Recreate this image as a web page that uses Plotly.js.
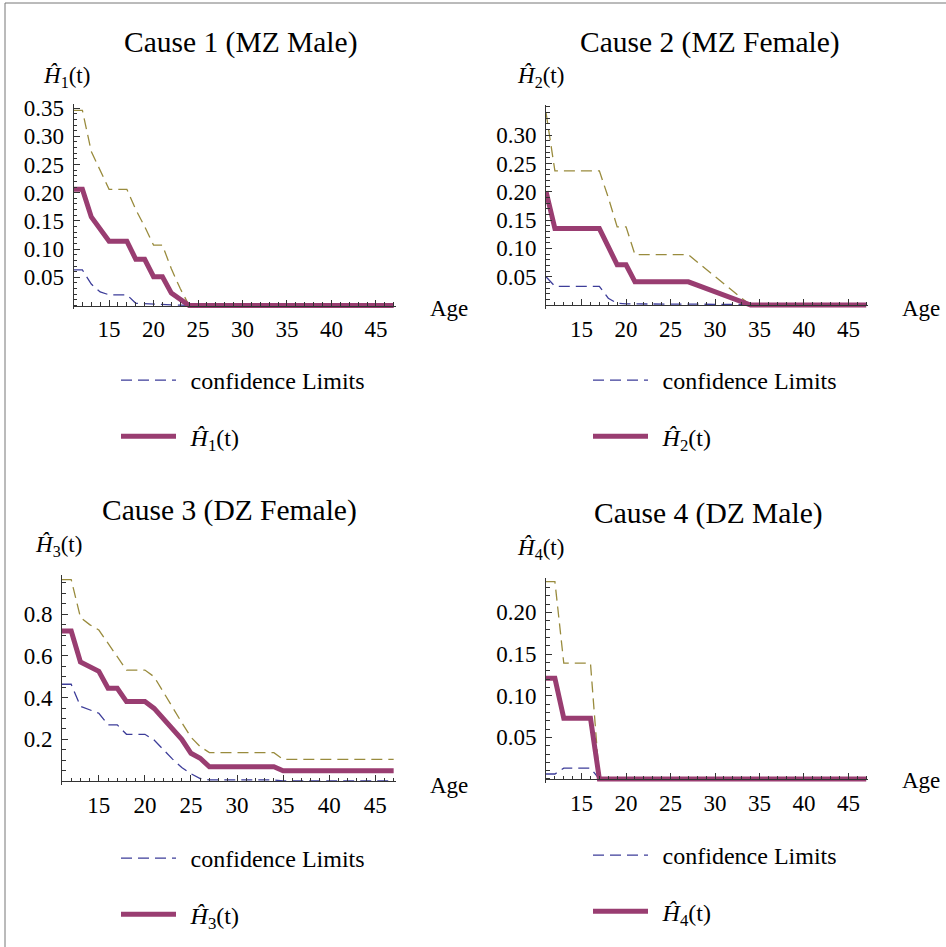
<!DOCTYPE html>
<html><head><meta charset="utf-8">
<script src="https://cdn.plot.ly/plotly-3.0.1.min.js"></script>
<style>html,body{margin:0;padding:0;background:#fff}#chart{width:946px;height:947px}</style>
</head><body><div id="chart"></div>
<script>
// ---------- data ----------
const ages = [11,12,13,14,15,16,17,18,19,20,21,22,23,24,25,26,27,28,29,30,31,32,33,34,35,36,37,38,39,40,41,42,43,44,45,46,47];

// Cause 1 (MZ Male)
const est1   = [0.206,0.206,0.157,0.135,0.114,0.114,0.114,0.082,0.082,0.051,0.051,0.022,0.010,0,0,0,0,0,0,0,0,0,0,0,0,0,0,0,0,0,0,0,0,0,0,0,0];
const upper1 = [0.346,0.346,0.273,0.240,0.206,0.206,0.206,0.170,0.140,0.107,0.107,0.065,0.030,0,0,0,0,0,0,0,0,0,0,0,0,0,0,0,0,0,0,0,0,0,0,0,0];
const lower1 = [0.063,0.063,0.038,0.024,0.019,0.019,0.019,0.004,0.003,0.002,0.002,0.001,0.0005,0,0,0,0,0,0,0,0,0,0,0,0,0,0,0,0,0,0,0,0,0,0,0,0];

// Cause 2 (MZ Female)
const est2   = [0.201,0.135,0.135,0.135,0.135,0.135,0.135,0.103,0.071,0.071,0.041,0.041,0.041,0.041,0.041,0.041,0.041,0.035,0.029,0.023,0.017,0.011,0.006,0,0,0,0,0,0,0,0,0,0,0,0,0,0];
const upper2 = [0.340,0.237,0.237,0.237,0.237,0.237,0.237,0.190,0.138,0.138,0.089,0.089,0.089,0.089,0.089,0.089,0.089,0.076,0.063,0.050,0.037,0.025,0.012,0,0,0,0,0,0,0,0,0,0,0,0,0,0];
const lower2 = [0.050,0.033,0.033,0.033,0.033,0.033,0.033,0.012,0.003,0.002,0.002,0.002,0.002,0.002,0.002,0.002,0.002,0.001,0.001,0.001,0.001,0.001,0.001,0,0,0,0,0,0,0,0,0,0,0,0,0,0];

// Cause 3 (DZ Female)
const est3   = [0.719,0.719,0.571,0.548,0.526,0.445,0.445,0.381,0.381,0.381,0.348,0.300,0.250,0.200,0.133,0.109,0.068,0.068,0.068,0.068,0.068,0.068,0.068,0.068,0.049,0.049,0.049,0.049,0.049,0.049,0.049,0.049,0.049,0.049,0.049,0.049,0.049];
const upper3 = [0.966,0.966,0.785,0.750,0.724,0.660,0.595,0.532,0.532,0.532,0.500,0.425,0.350,0.280,0.210,0.165,0.136,0.136,0.136,0.136,0.136,0.136,0.136,0.136,0.104,0.104,0.104,0.104,0.104,0.104,0.104,0.104,0.104,0.104,0.104,0.104,0.104];
const lower3 = [0.464,0.464,0.358,0.341,0.325,0.269,0.269,0.224,0.224,0.224,0.196,0.150,0.105,0.065,0.035,0.012,0.005,0.005,0.005,0.005,0.005,0.005,0.005,0.005,0,0,0,0,0,0,0,0,0,0,0,0,0];

// Cause 4 (DZ Male)
const est4   = [0.121,0.121,0.073,0.073,0.073,0.073,0,0,0,0,0,0,0,0,0,0,0,0,0,0,0,0,0,0,0,0,0,0,0,0,0,0,0,0,0,0,0];
const upper4 = [0.237,0.237,0.139,0.139,0.139,0.139,0,0,0,0,0,0,0,0,0,0,0,0,0,0,0,0,0,0,0,0,0,0,0,0,0,0,0,0,0,0,0];
const lower4 = [0.006,0.006,0.013,0.013,0.013,0.013,0,0,0,0,0,0,0,0,0,0,0,0,0,0,0,0,0,0,0,0,0,0,0,0,0,0,0,0,0,0,0];

const titles  = ['Cause 1 (MZ Male)','Cause 2 (MZ Female)','Cause 3 (DZ Female)','Cause 4 (DZ Male)'];
const hLabels = ['<i>Ĥ</i><sub>1</sub>(t)','<i>Ĥ</i><sub>2</sub>(t)','<i>Ĥ</i><sub>3</sub>(t)','<i>Ĥ</i><sub>4</sub>(t)'];
const ciName  = 'confidence Limits';
const xLabel  = 'Age';
const xTickVals = [15,20,25,30,35,40,45];
const yTicks1 = [0.05,0.10,0.15,0.20,0.25,0.30,0.35];
const yTicks2 = [0.05,0.10,0.15,0.20,0.25,0.30];
const yTicks3 = [0.2,0.4,0.6,0.8];
const yTicks4 = [0.05,0.10,0.15,0.20];

const ests = [est1,est2,est3,est4];
const uppers = [upper1,upper2,upper3,upper4];
const lowers = [lower1,lower2,lower3,lower4];
const yTicks = [yTicks1,yTicks2,yTicks3,yTicks4];

// ---------- layout geometry (pixels) ----------
const W = 946, H = 947;
const PX = x => x / W, PY = y => 1 - y / H;
const FONT = 'Liberation Serif, Times New Roman, serif';
const BLUE = '#3d3d99', PURPLE = '#993d71', OLIVE = '#998b3d', AX = '#333';
const GAP = '\u2009\u2009';

const cfg = [
  {xd:[73.5,395.5], zero:305.5, ppu:564,   yr:[-0.007,0.358], minor:0.01, fmt:'.2f', title:[240,43],  hl:[66,77],  age:[428,308], leg:[116,358]},
  {xd:[546,868],    zero:305,   ppu:566,   yr:[-0.007,0.353], minor:0.01, fmt:'.2f', title:[710,43],  hl:[540,77], age:[900,308], leg:[588,358]},
  {xd:[62,395.5],   zero:781,   ppu:208.5, yr:[-0.019,0.988], minor:0.05, fmt:'.1f', title:[229,510], hl:[58,546], age:[428,785], leg:[116,836]},
  {xd:[546,868],    zero:779,   ppu:833,   yr:[-0.005,0.241], minor:0.01, fmt:'.2f', title:[708,513], hl:[540,549],age:[900,780], leg:[588,833]}
];

const data = [];
const layout = {
  width: W, height: H,
  margin: {l:0, r:0, t:0, b:0},
  paper_bgcolor: '#fff', plot_bgcolor: '#fff',
  font: {family: FONT, color: '#000', size: 23},
  showlegend: true,
  annotations: [],
  shapes: [
    {type:'line', xref:'paper', yref:'paper', x0:PX(5), x1:PX(5), y0:PY(3), y1:PY(947), line:{color:'#777', width:1}},
    {type:'line', xref:'paper', yref:'paper', x0:PX(5), x1:PX(946), y0:PY(3), y1:PY(3), line:{color:'#777', width:1}}
  ]
};

cfg.forEach((c, i) => {
  const n = i + 1;
  const xa = 'x' + (n === 1 ? '' : n), ya = 'y' + (n === 1 ? '' : n);
  const xkey = 'xaxis' + (n === 1 ? '' : n), ykey = 'yaxis' + (n === 1 ? '' : n);
  const lkey = 'legend' + (n === 1 ? '' : n);
  const yBottom = c.zero - c.yr[0] * c.ppu;
  const yTop = c.zero - c.yr[1] * c.ppu;

  layout[xkey] = {
    domain: [PX(c.xd[0]), PX(c.xd[1])], range: [11, 47.2],
    anchor: 'free', position: PY(c.zero),
    showline: true, linecolor: AX, linewidth: 1,
    ticks: 'inside', ticklen: 6, tickwidth: 1, tickcolor: AX,
    tickmode: 'array', tickvals: xTickVals,
    minor: {tickmode: 'linear', tick0: 11, dtick: 1, ticks: 'inside', ticklen: 3.5, tickwidth: 1, tickcolor: AX, showgrid: false},
    showgrid: false, zeroline: false,
    tickfont: {family: FONT, size: 23, color: '#000'},
    ticklabelstandoff: 3, fixedrange: true
  };
  layout[ykey] = {
    domain: [PY(yBottom), PY(yTop)], range: c.yr, anchor: xa,
    showline: true, linecolor: AX, linewidth: 1,
    ticks: 'inside', ticklen: 6, tickwidth: 1, tickcolor: AX,
    tickmode: 'array', tickvals: yTicks[i], tickformat: c.fmt,
    minor: {tickmode: 'linear', tick0: 0, dtick: c.minor, ticks: 'inside', ticklen: 3.5, tickwidth: 1, tickcolor: AX, showgrid: false},
    showgrid: false, zeroline: false,
    tickfont: {family: FONT, size: 23, color: '#000'},
    ticklabelstandoff: 4, fixedrange: true
  };
  layout[lkey] = {
    x: PX(c.leg[0]), y: PY(c.leg[1]), xanchor: 'left', yanchor: 'top',
    xref: 'paper', yref: 'paper',
    bgcolor: 'rgba(0,0,0,0)', borderwidth: 0,
    font: {family: FONT, size: 24, color: '#000'},
    itemwidth: 55, tracegroupgap: 22, traceorder: 'grouped', itemclick: false, itemdoubleclick: false
  };

  data.push({
    x: ages, y: lowers[i], xaxis: xa, yaxis: ya, type: 'scatter', mode: 'lines',
    name: GAP + ciName, legend: lkey, legendgroup: 'ci' + n,
    line: {color: BLUE, width: 1.3, dash: '11px,6px'}, hoverinfo: 'skip'
  });
  data.push({
    x: ages, y: uppers[i], xaxis: xa, yaxis: ya, type: 'scatter', mode: 'lines',
    name: ciName + ' (upper)', legend: lkey, legendgroup: 'ci' + n, showlegend: false,
    line: {color: OLIVE, width: 1.3, dash: '11px,6px'}, hoverinfo: 'skip'
  });
  data.push({
    x: ages, y: ests[i], xaxis: xa, yaxis: ya, type: 'scatter', mode: 'lines',
    name: GAP + hLabels[i], legend: lkey, legendgroup: 'h' + n,
    line: {color: PURPLE, width: 5}, hoverinfo: 'skip'
  });

  layout.annotations.push(
    {text: titles[i], xref: 'paper', yref: 'paper', x: PX(c.title[0]), y: PY(c.title[1]), xanchor: 'center', yanchor: 'middle', showarrow: false, font: {family: FONT, size: 29.5, color: '#000'}},
    {text: hLabels[i], xref: 'paper', yref: 'paper', x: PX(c.hl[0]), y: PY(c.hl[1]), xanchor: 'center', yanchor: 'middle', showarrow: false, font: {family: FONT, size: 23, color: '#000'}},
    {text: xLabel, xref: 'paper', yref: 'paper', x: PX(c.age[0]), y: PY(c.age[1]), xanchor: 'left', yanchor: 'middle', showarrow: false, font: {family: FONT, size: 23, color: '#000'}}
  );
});

Plotly.newPlot('chart', data, layout, {displayModeBar: false, staticPlot: true});
</script>
</body></html>
